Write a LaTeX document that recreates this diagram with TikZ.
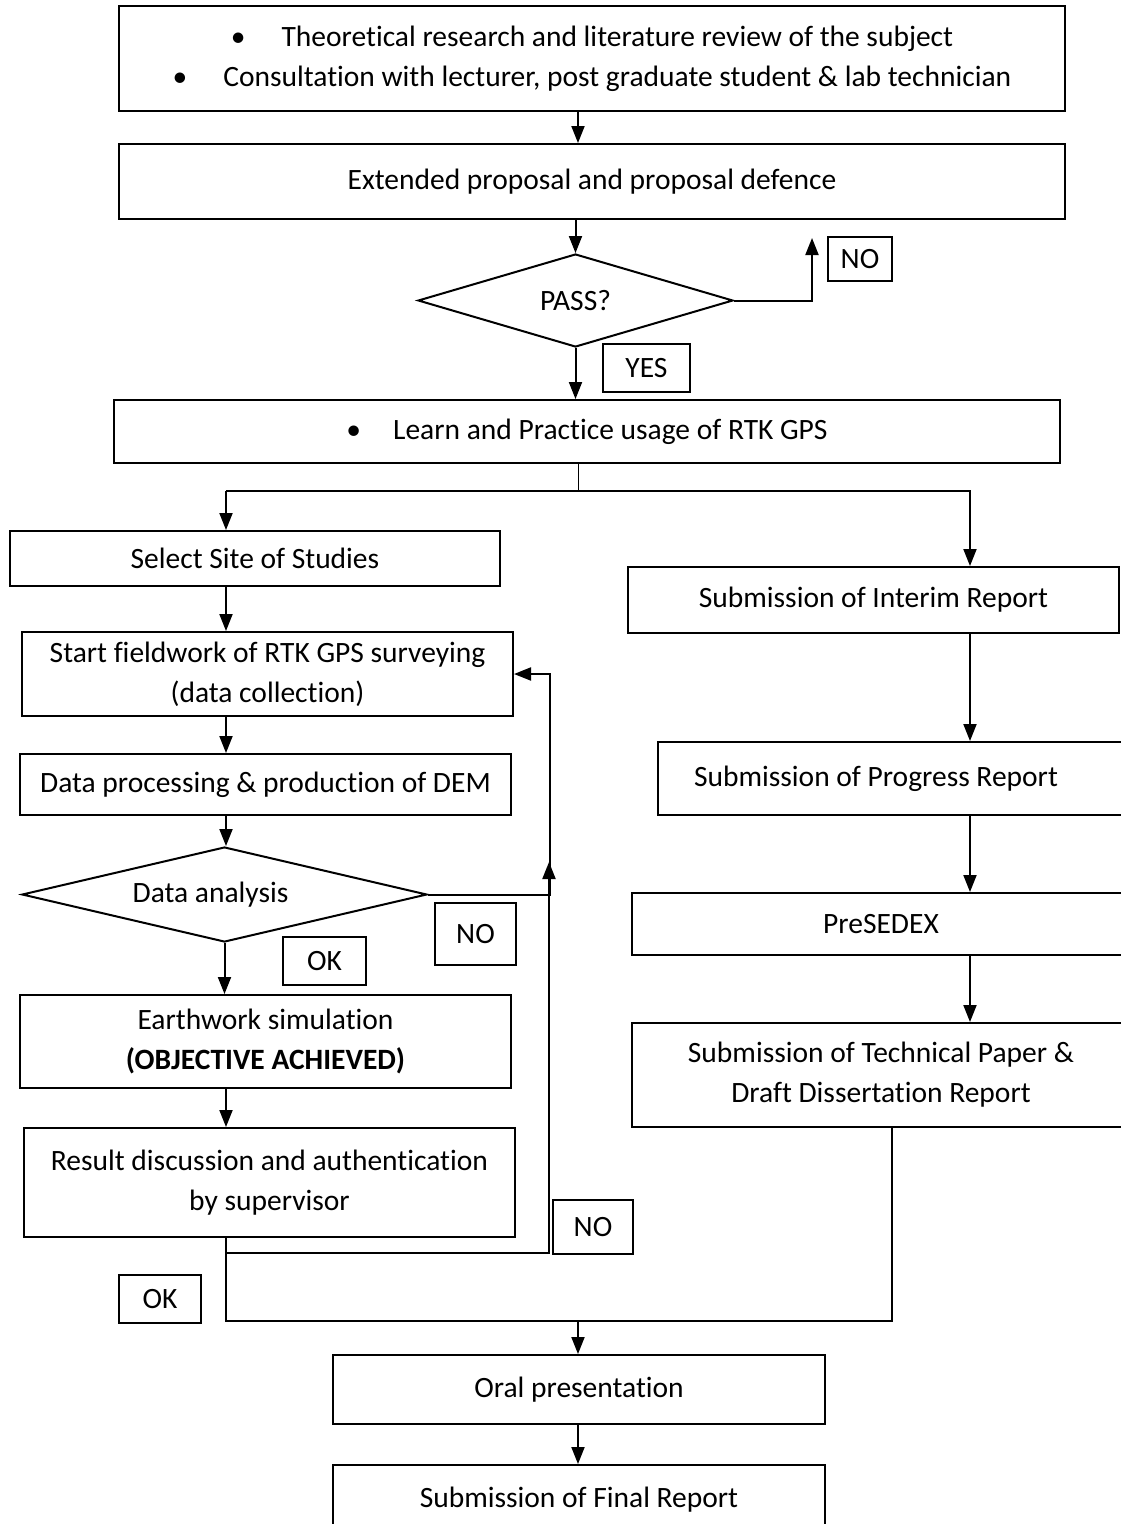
\documentclass[tikz,border=0pt]{standalone}
\usepackage{fontspec}
\setmainfont{Carlito}[Ligatures={NoCommon}]
\usetikzlibrary{arrows.meta,shapes.geometric}
\begin{document}
\begin{tikzpicture}[x=1pt,y=-1pt,
  txt/.style={font=\fontsize{29.5}{40}\selectfont},
  box/.style={txt,draw,line width=2pt,inner sep=0pt,align=center},
  tag/.style={txt,draw,line width=1.6pt,inner sep=0pt},
  dec/.style={txt,draw,diamond,line width=2pt,inner sep=0pt},
  ln/.style={line width=2pt},
  thinln/.style={line width=1pt},
  arr/.style={line width=2pt,-{Triangle[length=17pt,width=13pt]}}]
\useasboundingbox (0,0) rectangle (1121,1524);

% ---- main column, top part
\node[box,minimum width=946pt,minimum height=105pt] (b1) at (592,58.5)
  {\textbullet\hspace{36pt}Theoretical research and literature review of the subject\\
   \textbullet\hspace{36pt}Consultation with lecturer, post graduate student \& lab technician};
\node[box,minimum width=946pt,minimum height=75pt] (b2) at (592,181.5)
  {Extended proposal and proposal defence};
\node[dec,aspect=3.39,minimum width=315pt,minimum height=93pt] (pass) at (575.5,300.5) {PASS?};
\node[tag,minimum width=64pt,minimum height=44pt] (noA) at (860,259) {NO};
\node[tag,minimum width=87pt,minimum height=48pt] (yes) at (646.5,368) {YES};
\node[box,minimum width=946pt,minimum height=63pt] (b3) at (587,431.5)
  {\textbullet\hspace{32pt}Learn and Practice usage of RTK GPS};

% ---- left column
\node[box,minimum width=490pt,minimum height=55pt] (site) at (255,558.5) {Select Site of Studies};
\node[box,minimum width=491pt,minimum height=84pt] (field) at (267.5,674)
  {Start fieldwork of RTK GPS surveying\\(data collection)};
\node[box,minimum width=491pt,minimum height=61pt] (proc) at (265.5,784.5)
  {Data processing \& production of DEM};
\node[dec,aspect=4.26,minimum width=405pt,minimum height=95pt] (anal) at (224.5,894.5)
  {\hspace*{-28pt}Data analysis};
\node[tag,minimum width=81pt,minimum height=62pt] (noB) at (475.5,934) {NO};
\node[tag,minimum width=83pt,minimum height=48pt] (okA) at (324.5,961) {OK};
\node[box,minimum width=491pt,minimum height=93pt] (earth) at (265.5,1041.5)
  {Earthwork simulation\\\textbf{(OBJECTIVE ACHIEVED)}};
\node[box,minimum width=491pt,minimum height=109pt] (result) at (269.5,1182.5)
  {Result discussion and authentication\\by supervisor};
\node[tag,minimum width=80pt,minimum height=54pt] (noC) at (593,1227) {NO};
\node[tag,minimum width=82pt,minimum height=48pt] (okB) at (160,1299) {OK};

% ---- right column
\node[box,minimum width=491pt,minimum height=66pt] (interim) at (873.5,600)
  {Submission of Interim Report};
\node[box,minimum width=472pt,minimum height=73pt] (progress) at (894,778.5)
  {Submission of Progress Report\hspace*{36pt}};
\node[box,minimum width=498pt,minimum height=62pt] (presedex) at (881,924) {PreSEDEX};
\node[box,minimum width=498pt,minimum height=104pt] (tech) at (881,1075)
  {Submission of Technical Paper \&\\Draft Dissertation Report};

% ---- bottom
\node[box,minimum width=492pt,minimum height=69pt] (oral) at (579,1389.5) {Oral presentation};
\node[box,minimum width=492pt,minimum height=70pt] (final) at (579,1500) {Submission of Final Report};

% ---- junction points
\coordinate (split) at (578,491);
\coordinate (jl) at (226,491);
\coordinate (jr) at (970,491);
\coordinate (noup) at (812,238);
\coordinate (merge) at (578,1321);
\coordinate (mergeL) at (226,1321);
\coordinate (mergeR) at (892,1321);
\coordinate (retB) at (226,1253);
\coordinate (retTop) at (549,862);

% ---- connectors, top
\draw[arr] (b1.south -| split) -- (b2.north -| split);
\draw[arr] (b2.south -| pass.north) -- (pass.north);
\draw[arr] (pass.east) -| (noup);
\draw[arr] (pass.south) -- (pass.south |- b3.north);
\draw[thinln] (b3.south -| split) -- (split);
\draw[arr] (jl) -- (jr) -- (jr |- interim.north);
\draw[arr] (jl) -- (jl |- site.north);

% ---- connectors, left column
\draw[arr] (site.south -| jl) -- (field.north -| jl);
\draw[arr] (field.south -| jl) -- (proc.north -| jl);
\draw[arr] (proc.south -| jl) -- (anal.north -| jl);
\draw[arr] (anal.east) -| ([xshift=36pt]field.east) -- (field.east);
\draw[arr] (anal.south) -- (anal.south |- earth.north);
\draw[arr] (earth.south -| jl) -- (result.north -| jl);
\draw[ln] (result.south -| jl) -- (mergeL) -- (mergeR) -- (tech.south -| mergeR);
\draw[arr] (retB) -| (retTop);

% ---- connectors, right column
\draw[arr] (interim.south -| jr) -- (progress.north -| jr);
\draw[arr] (progress.south -| jr) -- (presedex.north -| jr);
\draw[arr] (presedex.south -| jr) -- (tech.north -| jr);

% ---- connectors, bottom
\draw[arr] (merge) -- (oral.north -| merge);
\draw[arr] (oral.south -| merge) -- (final.north -| merge);
\end{tikzpicture}
\end{document}
